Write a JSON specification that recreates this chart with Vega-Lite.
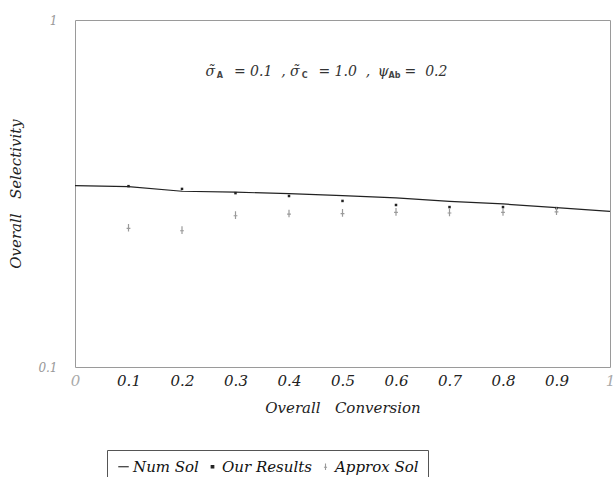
{
  "$schema": "https://vega.github.io/schema/vega-lite/v6.json",
  "width": 535,
  "height": 347,
  "autosize": {"type": "none"},
  "padding": {"left": 75, "top": 20, "right": 3, "bottom": 110},
  "background": "white",
  "config": {
    "view": {"stroke": "#9a9a9a", "strokeWidth": 1},
    "font": "DejaVu Serif"
  },
  "datasets": {
    "num": [
      {"x": 0.0, "y": 0.333, "series": "Num Sol"},
      {"x": 0.1, "y": 0.331, "series": "Num Sol"},
      {"x": 0.2, "y": 0.321, "series": "Num Sol"},
      {"x": 0.3, "y": 0.319, "series": "Num Sol"},
      {"x": 0.4, "y": 0.316, "series": "Num Sol"},
      {"x": 0.5, "y": 0.312, "series": "Num Sol"},
      {"x": 0.6, "y": 0.307, "series": "Num Sol"},
      {"x": 0.7, "y": 0.300, "series": "Num Sol"},
      {"x": 0.8, "y": 0.295, "series": "Num Sol"},
      {"x": 0.9, "y": 0.288, "series": "Num Sol"},
      {"x": 1.0, "y": 0.281, "series": "Num Sol"}
    ],
    "ours": [
      {"x": 0.1, "y": 0.332, "series": "Our Results"},
      {"x": 0.2, "y": 0.326, "series": "Our Results"},
      {"x": 0.3, "y": 0.317, "series": "Our Results"},
      {"x": 0.4, "y": 0.311, "series": "Our Results"},
      {"x": 0.5, "y": 0.301, "series": "Our Results"},
      {"x": 0.6, "y": 0.293, "series": "Our Results"},
      {"x": 0.7, "y": 0.289, "series": "Our Results"},
      {"x": 0.8, "y": 0.289, "series": "Our Results"},
      {"x": 0.9, "y": 0.287, "series": "Our Results"}
    ],
    "approx": [
      {"x": 0.1, "y": 0.252, "series": "Approx Sol"},
      {"x": 0.2, "y": 0.248, "series": "Approx Sol"},
      {"x": 0.3, "y": 0.274, "series": "Approx Sol"},
      {"x": 0.4, "y": 0.277, "series": "Approx Sol"},
      {"x": 0.5, "y": 0.278, "series": "Approx Sol"},
      {"x": 0.6, "y": 0.280, "series": "Approx Sol"},
      {"x": 0.7, "y": 0.279, "series": "Approx Sol"},
      {"x": 0.8, "y": 0.280, "series": "Approx Sol"},
      {"x": 0.9, "y": 0.281, "series": "Approx Sol"}
    ],
    "note": [
      {"x": 0.244, "y": 0.708, "t": "σ̃", "kind": "main"},
      {"x": 0.297, "y": 0.708, "t": "=\u00a00.1\u00a0\u00a0,", "kind": "main"},
      {"x": 0.402, "y": 0.708, "t": "σ̃", "kind": "main"},
      {"x": 0.455, "y": 0.708, "t": "=\u00a01.0\u00a0\u00a0,", "kind": "main"},
      {"x": 0.566, "y": 0.708, "t": "ψ", "kind": "main"},
      {"x": 0.616, "y": 0.708, "t": "=\u00a0\u00a00.2", "kind": "main"},
      {"x": 0.265, "y": 0.688, "t": "A", "kind": "sub"},
      {"x": 0.424, "y": 0.688, "t": "C", "kind": "sub"},
      {"x": 0.586, "y": 0.688, "t": "Ab", "kind": "sub"}
    ]
  },
  "layer": [
    {
      "data": {"name": "num"},
      "mark": {"type": "line", "strokeWidth": 1.2},
      "encoding": {
        "x": {
          "field": "x", "type": "quantitative",
          "scale": {"domain": [0, 1], "nice": false},
          "axis": {
            "title": "Overall\u00a0\u00a0\u00a0Conversion",
            "titleFont": "DejaVu Serif", "titleFontStyle": "italic", "titleFontWeight": "normal",
            "titleFontSize": 15, "titleColor": "#222", "titlePadding": 12,
            "values": [0, 0.1, 0.2, 0.3, 0.4, 0.5, 0.6, 0.7, 0.8, 0.9, 1],
            "labelExpr": "datum.value == 0 ? '0' : datum.value == 1 ? '1' : format(datum.value, '.1f')",
            "labelFont": "DejaVu Serif", "labelFontStyle": "italic", "labelFontSize": 15,
            "labelColor": {"condition": {"test": "datum.value == 0 || datum.value == 1", "value": "#aaaaaa"}, "value": "#222222"},
            "labelPadding": 6, "ticks": false, "domain": false, "grid": false, "labelFlush": false
          }
        },
        "y": {
          "field": "y", "type": "quantitative",
          "scale": {"type": "log", "domain": [0.1, 1], "nice": false},
          "axis": {
            "title": "Overall\u00a0\u00a0\u00a0Selectivity",
            "titleFont": "DejaVu Serif", "titleFontStyle": "italic", "titleFontWeight": "normal",
            "titleFontSize": 15, "titleColor": "#222", "titlePadding": 14,
            "values": [0.1, 1],
            "labelExpr": "datum.value == 1 ? '1' : '0.1'",
            "labelFont": "DejaVu Serif", "labelFontStyle": "italic", "labelFontSize": 12,
            "labelColor": "#999999", "labelPadding": 18,
            "ticks": false, "domain": false, "grid": false, "labelFlush": false
          }
        },
        "color": {
          "field": "series", "type": "nominal",
          "scale": {"domain": ["Num Sol", "Our Results", "Approx Sol"], "range": ["#222222", "#222222", "#9a9a9a"]},
          "legend": {
            "title": null, "orient": "none", "legendX": 32, "legendY": 430, "direction": "horizontal",
            "labelFont": "DejaVu Serif", "labelFontStyle": "italic", "labelFontSize": 15, "labelColor": "#111",
            "symbolSize": 110, "symbolStrokeWidth": 1.1, "columnPadding": 6, "labelOffset": 2,
            "strokeColor": "#555", "padding": 9
          }
        },
        "shape": {
          "field": "series", "type": "nominal",
          "scale": {"domain": ["Num Sol", "Our Results", "Approx Sol"], "range": ["stroke", "M-0.25,-0.25L0.25,-0.25L0.25,0.25L-0.25,0.25Z", "M0,-0.6L0,0.6M-0.3,0.1L0.3,0.1"]}
        }
      }
    },
    {
      "data": {"name": "ours"},
      "mark": {"type": "point", "filled": true, "size": 100, "opacity": 1},
      "encoding": {
        "x": {"field": "x", "type": "quantitative"},
        "y": {"field": "y", "type": "quantitative"},
        "color": {"field": "series", "type": "nominal"},
        "shape": {"field": "series", "type": "nominal"}
      }
    },
    {
      "data": {"name": "approx"},
      "mark": {"type": "point", "filled": false, "size": 160, "strokeWidth": 1.2, "opacity": 1},
      "encoding": {
        "x": {"field": "x", "type": "quantitative"},
        "y": {"field": "y", "type": "quantitative"},
        "color": {"field": "series", "type": "nominal"},
        "shape": {"field": "series", "type": "nominal"}
      }
    },
    {
      "data": {"name": "note"},
      "transform": [{"filter": "datum.kind == 'main'"}],
      "mark": {"type": "text", "align": "left", "baseline": "middle", "font": "DejaVu Serif", "fontStyle": "italic", "fontSize": 14, "color": "#333"},
      "encoding": {
        "x": {"field": "x", "type": "quantitative"},
        "y": {"field": "y", "type": "quantitative"},
        "text": {"field": "t"}
      }
    },
    {
      "data": {"name": "note"},
      "transform": [{"filter": "datum.kind == 'sub'"}],
      "mark": {"type": "text", "align": "left", "baseline": "middle", "font": "DejaVu Sans", "fontWeight": "bold", "fontSize": 8, "color": "#444"},
      "encoding": {
        "x": {"field": "x", "type": "quantitative"},
        "y": {"field": "y", "type": "quantitative"},
        "text": {"field": "t"}
      }
    }
  ]
}
